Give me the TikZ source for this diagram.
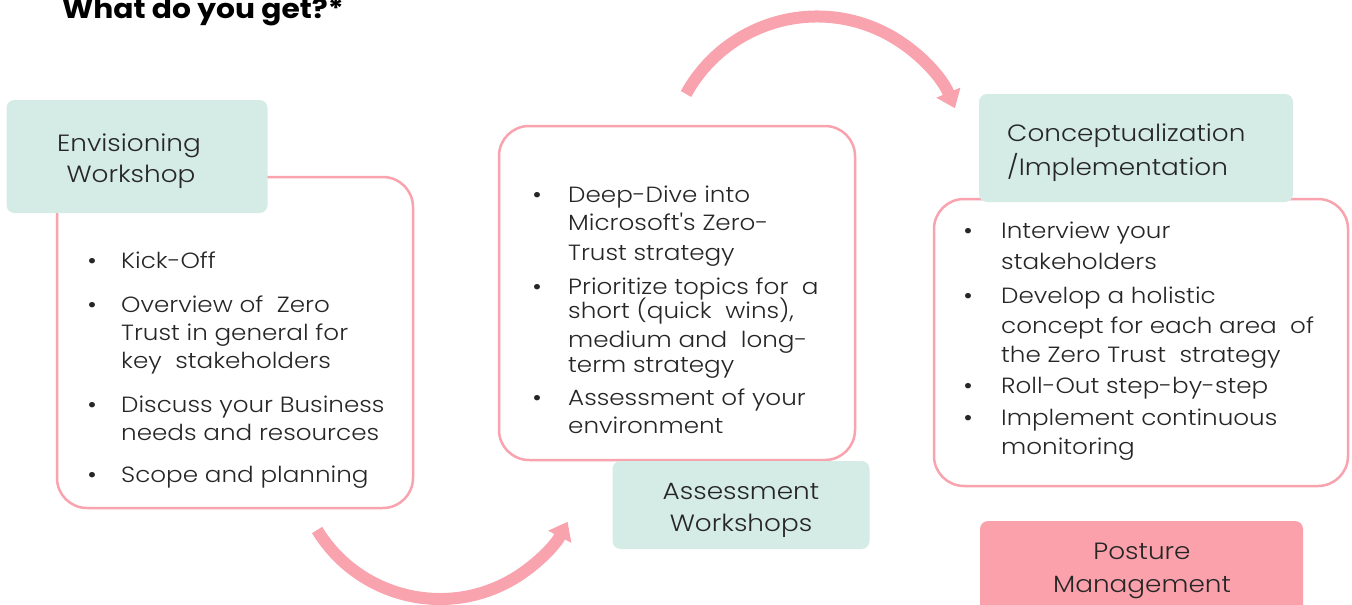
\documentclass[tikz,border=0pt]{standalone}
\usepackage{fontspec}
\newfontfamily\bodyfont{Poppins Light}[FakeStretch=1.12]
\newfontfamily\titlefont{Poppins}[FakeStretch=1.1]
\usetikzlibrary{arrows.meta}
\definecolor{mint}{HTML}{D5EBE5}
\definecolor{rose}{HTML}{F8A3AE}
\definecolor{rosefill}{HTML}{FBA1AC}
\definecolor{ink}{HTML}{262626}
\begin{document}
\begin{tikzpicture}[x=1pt,y=-1pt,
  panel/.style={draw=rose, line width=2.5pt, fill=white, rounded corners=30pt, inner sep=0pt},
  tag/.style={fill=mint, rounded corners=8pt, inner sep=0pt},
  hot/.style={fill=rosefill, rounded corners=8pt, inner sep=0pt},
  txt/.style={anchor=base west, inner sep=0pt, font=\bodyfont\fontsize{22}{26}\selectfont, text=ink},
  head/.style={anchor=base, inner sep=0pt, font=\bodyfont\fontsize{23.5}{28}\selectfont, text=ink},
  dot/.style={anchor=base, inner sep=0pt, font=\titlefont\fontsize{22}{26}\selectfont, text=ink},
  flow/.style={draw=rose, line width=12pt, -{Triangle[length=17pt,width=25pt]}}
]
\useasboundingbox (0,0) rectangle (1352,605);

% title
\node[anchor=base west, inner sep=0pt, font=\titlefont\fontsize{27}{30}\selectfont\bfseries] (title) at (62,19) {What do you get?*};

% white panels
\node[panel, minimum width=356pt, minimum height=331pt] (p1) at (235,342.5) {};
\node[panel, minimum width=356pt, minimum height=334pt] (p2) at (677,293) {};
\node[panel, minimum width=414pt, minimum height=287pt] (p3) at (1141,342.5) {};

% heading boxes
\node[tag, minimum width=261pt, minimum height=113pt] (h1) at (137,156.5) {};
\node[tag, minimum width=257pt, minimum height=88pt] (h2) at (741,505) {};
\node[tag, minimum width=314pt, minimum height=108pt] (h3) at (1136,148) {};
\node[hot, minimum width=323pt, minimum height=100pt] (h4) at (1141.5,571) {};

\node[head] (h1a) at (129,151) {Envisioning};
\node[head] (h1b) at (131,182) {Workshop};
\node[head] (h2a) at (741,499) {Assessment};
\node[head] (h2b) at (741,531) {Workshops};
\node[head, anchor=base west] (h3a) at (1007,141) {Conceptualization};
\node[head, anchor=base west] (h3b) at (1007,175) {/Implementation};
\node[head] (h4a) at (1142,559) {Posture};
\node[head] (h4b) at (1142,592) {Management};

% first panel
\node[dot] (b11) at (92,268) {•};
\node[dot] (b12) at (92,312) {•};
\node[dot] (b13) at (92,412) {•};
\node[dot] (b14) at (92,482) {•};
\node[txt] (t11) at (121,268) {Kick-Off};
\node[txt] (t12) at (121,312) {Overview of \ Zero};
\node[txt] (t13) at (121,340) {Trust in general for};
\node[txt] (t14) at (121,368) {key \ stakeholders};
\node[txt] (t15) at (121,412) {Discuss your Business};
\node[txt] (t16) at (121,440) {needs and resources};
\node[txt] (t17) at (121,482) {Scope and planning};

% second panel
\node[dot] (b21) at (537,202) {•};
\node[dot] (b22) at (537,294) {•};
\node[dot] (b23) at (537,405) {•};
\node[txt] (t21) at (568,202) {Deep-Dive into};
\node[txt] (t22) at (568,230) {Microsoft's Zero-};
\node[txt] (t23) at (568,260) {Trust strategy};
\node[txt] (t24) at (568,294) {Prioritize topics for \ a};
\node[txt] (t25) at (568,318) {short (quick \ wins),};
\node[txt] (t26) at (568,347) {medium and \ long-};
\node[txt] (t27) at (568,372) {term strategy};
\node[txt] (t28) at (568,405) {Assessment of your};
\node[txt] (t29) at (568,433) {environment};

% third panel
\node[dot] (b31) at (968,238) {•};
\node[dot] (b32) at (968,303) {•};
\node[dot] (b33) at (968,393) {•};
\node[dot] (b34) at (968,425) {•};
\node[txt] (t31) at (1001,238) {Interview your};
\node[txt] (t32) at (1001,269) {stakeholders};
\node[txt] (t33) at (1001,303) {Develop a holistic};
\node[txt] (t34) at (1001,333) {concept for each area \ of};
\node[txt] (t35) at (1001,362) {the Zero Trust \ strategy};
\node[txt] (t36) at (1001,393) {Roll-Out step-by-step};
\node[txt] (t37) at (1001,425) {Implement continuous};
\node[txt] (t38) at (1001,454) {monitoring};

% curved flow arrows
\coordinate (c1) at (440,455);
\coordinate (c2) at (817,166);
\draw[flow] ([shift={(148.6:144)}]c1) arc[start angle=148.6, end angle=27.6, radius=144];
\draw[flow] ([shift={(-151.2:149.5)}]c2) arc[start angle=-151.2, end angle=-22.7, radius=149.5];
\end{tikzpicture}
\end{document}
